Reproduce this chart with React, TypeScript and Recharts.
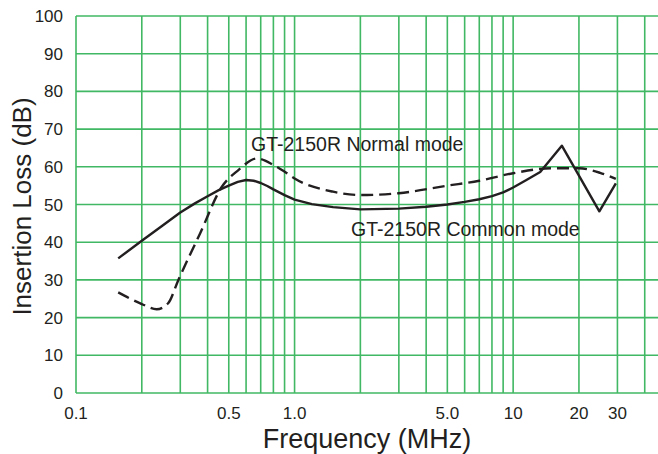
import { LineChart, Line, XAxis, YAxis, ReferenceLine, Label } from "recharts";

// Common mode (solid)
const commonFreq = [0.156, 0.2, 0.25, 0.3, 0.35, 0.4, 0.45, 0.5, 0.55, 0.6, 0.65, 0.7, 0.75, 0.8, 0.9, 1.0, 1.2, 1.5, 2, 3, 4, 5, 6, 7, 8, 9, 10, 11.5, 13.3, 16.7, 24.8, 29.5];
const commonLoss = [35.7, 40.4, 44.5, 47.9, 50.3, 52.2, 53.8, 55.0, 56.0, 56.5, 56.3, 55.7, 54.9, 54.0, 52.5, 51.3, 50.1, 49.3, 48.7, 48.9, 49.4, 50.0, 50.7, 51.4, 52.2, 53.2, 54.5, 56.5, 58.6, 65.6, 48.2, 55.6];

// Normal mode (dashed)
const normalFreq = [0.156, 0.2, 0.234, 0.264, 0.294, 0.37, 0.465, 0.55, 0.672, 0.8, 0.9, 1.0, 1.5, 2, 3, 5, 7, 10, 15, 20, 25, 29.5];
const normalLoss = [26.7, 23.6, 22.2, 23.8, 30.0, 42.4, 54.7, 59.0, 62.2, 60.5, 58.7, 56.9, 53.4, 52.5, 53.0, 55.0, 56.3, 58.3, 59.6, 59.6, 58.4, 56.8];

const xTicks = [0.1, 0.5, 1, 5, 10, 20, 30];
const xTickLabels = ["0.1", "0.5", "1.0", "5.0", "10", "20", "30"];
const yTicks = [0, 10, 20, 30, 40, 50, 60, 70, 80, 90, 100];
const xGrid = [0.1, 0.2, 0.3, 0.4, 0.5, 0.6, 0.7, 0.8, 0.9, 1, 2, 3, 4, 5, 6, 7, 8, 9, 10, 20, 30, 40];

const commonData = commonFreq.map((f, i) => ({ f, v: commonLoss[i] }));
const normalData = normalFreq.map((f, i) => ({ f, v: normalLoss[i] }));

const GRID = "#41b863";
const INK = "#231f20";
const FONT = "'Liberation Sans', Arial, sans-serif";

function YTitle(props: any) {
  const vb = props.viewBox;
  const cx = vb.x + 22;
  const cy = vb.y + vb.height / 2 + 2;
  return (
    <text
      x={cx}
      y={cy}
      transform={`rotate(-90 ${cx} ${cy})`}
      textAnchor="middle"
      dominantBaseline="central"
      fontSize={26}
      fontFamily={FONT}
      fill={INK}
    >
      Insertion Loss (dB)
    </text>
  );
}

export default function App() {
  return (
    <div style={{ position: "absolute", left: 0, top: 0, width: 658, height: 454, background: "#fff" }}>
      <LineChart width={658} height={454} margin={{ top: 16, right: 0, bottom: 0, left: 0 }}>
        <XAxis
          type="number"
          dataKey="f"
          scale="log"
          domain={[0.1, 46]}
          ticks={xTicks}
          tickFormatter={(v: number) => xTickLabels[xTicks.indexOf(v)] ?? String(v)}
          allowDataOverflow
          height={61}
          axisLine={false}
          tickLine={false}
          tickMargin={8}
          tick={{ fontSize: 17, fill: INK, fontFamily: FONT }}
        >
          <Label value="Frequency (MHz)" position="insideBottom" offset={6} fontSize={27} fill={INK} fontFamily={FONT} />
        </XAxis>
        <YAxis
          type="number"
          domain={[0, 100]}
          ticks={yTicks}
          width={76}
          axisLine={false}
          tickLine={false}
          tickMargin={7}
          tick={{ fontSize: 17, fill: INK, fontFamily: FONT }}
        >
          <Label content={<YTitle />} />
        </YAxis>
        {yTicks.map((y) => (
          <ReferenceLine key={"h" + y} y={y} stroke={GRID} strokeWidth={1.6} />
        ))}
        {xGrid.map((x) => (
          <ReferenceLine key={"v" + x} x={x} stroke={GRID} strokeWidth={1.6} />
        ))}
        <Line
          data={normalData}
          dataKey="v"
          type="monotone"
          stroke={INK}
          strokeWidth={2.4}
          strokeDasharray="12 6"
          dot={false}
          isAnimationActive={false}
        />
        <Line
          data={commonData}
          dataKey="v"
          type="linear"
          stroke={INK}
          strokeWidth={2.4}
          strokeLinejoin="round"
          dot={false}
          isAnimationActive={false}
        />
      </LineChart>
      <svg width={658} height={454} style={{ position: "absolute", left: 0, top: 0, pointerEvents: "none" }}>
        <text x={251} y={151} fontSize={19.5} fontFamily={FONT} fill={INK}>
          GT-2150R Normal mode
        </text>
        <text x={351} y={236} fontSize={19.5} fontFamily={FONT} fill={INK}>
          GT-2150R Common mode
        </text>
      </svg>
    </div>
  );
}
